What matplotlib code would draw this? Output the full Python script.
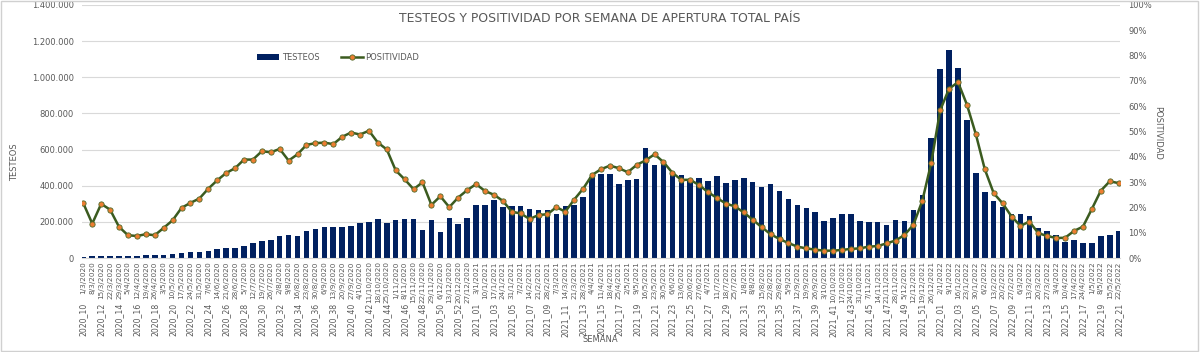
"""
Testeos y positividad por semana (total pais) - bar + line combo chart
"""
# Imports
import numpy as np
import pandas as pd
import matplotlib
matplotlib.use("Agg")
import matplotlib.pyplot as plt
from matplotlib.ticker import FuncFormatter, PercentFormatter
from matplotlib.patches import Rectangle

# Weekly tests, in thousands
testeos_miles = [
    6, 9, 9, 9, 9, 13, 13, 18, 18, 18,
    24, 28, 31, 31, 39, 48, 57, 57, 67, 83,
    94, 98, 120, 130, 124, 150, 159, 172, 172, 172,
    178, 193, 198, 215, 194, 209, 215, 215, 157, 211,
    146, 222, 187, 222, 293, 296, 319, 280, 285, 287,
    270, 267, 263, 244, 285, 296, 335, 448, 467, 467,
    411, 431, 435, 606, 515, 528, 476, 461, 437, 443,
    424, 452, 415, 431, 443, 422, 393, 409, 370, 328,
    293, 276, 256, 207, 219, 241, 245, 206, 198, 198,
    181, 211, 206, 267, 350, 665, 1044, 1150, 1052, 761,
    469, 363, 317, 283, 243, 246, 233, 165, 148, 126,
    89, 100, 85, 85, 120, 130, 148,
]

# Weekly positivity, in percent
positividad_pct = [
    21.6, 13.6, 21.4, 19.1, 12.3, 9.0, 8.7, 9.4, 9.0, 11.9,
    14.9, 19.8, 21.8, 23.5, 27.4, 30.7, 33.6, 35.5, 38.9, 38.9,
    42.2, 41.8, 43.1, 38.5, 41.0, 44.7, 45.4, 45.6, 45.0, 47.9,
    49.6, 48.8, 50.3, 45.6, 42.9, 34.6, 31.1, 27.2, 29.9, 21.0,
    24.4, 20.1, 23.9, 26.8, 29.2, 26.5, 25.0, 22.6, 18.3, 17.6,
    15.4, 17.0, 17.3, 20.1, 18.3, 23.1, 27.4, 32.8, 35.1, 36.5,
    35.5, 33.9, 36.8, 38.6, 41.0, 37.9, 33.7, 30.9, 30.9, 28.8,
    26.0, 23.7, 21.5, 20.4, 18.0, 15.1, 12.2, 9.4, 7.5, 5.9,
    4.5, 3.8, 3.3, 2.9, 2.9, 3.2, 3.6, 3.8, 4.5, 4.7,
    5.8, 6.9, 9.1, 13.1, 22.6, 37.6, 58.4, 66.9, 69.5, 60.6,
    48.9, 35.1, 25.6, 21.6, 16.4, 12.7, 14.4, 9.8, 8.7, 7.9,
    8.0, 10.7, 12.4, 19.4, 26.6, 30.3, 29.6,
]

# X labels: week start date (top row) and epi week (bottom row)
fechas = pd.date_range("2020-03-01", periods=len(testeos_miles), freq="7D")
fecha_labels = [f"{d.day}/{d.month}/{d.year}" for d in fechas]
semana_labels = ([f"2020_{w:02d}" for w in range(10, 54)]
                 + [f"2021_{w:02d}" for w in range(1, 53)]
                 + [f"2022_{w:02d}" for w in range(1, 22)])

GREY = "#595959"
NAVY = "#002060"
GREEN = "#3B5B1F"
ORANGE = "#ED7D31"

fig = plt.figure(figsize=(12, 3.52), dpi=100)
ax = fig.add_axes([82 / 1200, 1 - 258 / 352, (1120 - 82) / 1200, (258 - 5) / 352])

x = np.arange(len(testeos_miles))
bars = ax.bar(x, np.array(testeos_miles) * 1000, width=0.62, color=NAVY,
              label="TESTEOS", zorder=2)

# left axis
ax.set_ylim(0, 1400000)
ax.set_yticks(range(0, 1400001, 200000))
ax.yaxis.set_major_formatter(FuncFormatter(lambda v, p: f"{int(v):,}".replace(",", ".")))
ax.yaxis.grid(True, color="#D9D9D9", linewidth=0.8)
ax.set_axisbelow(True)
for side in ["top", "left", "right"]:
    ax.spines[side].set_visible(False)
ax.spines["bottom"].set_color("#D9D9D9")
ax.tick_params(axis="y", length=0, labelsize=6, labelcolor=GREY, pad=6)
ax.set_xlim(-0.15, len(x) - 1 + 0.15)
ax.set_xticks(x)
ax.set_xticklabels(fecha_labels, rotation=90, fontsize=5.2, color=GREY)
ax.tick_params(axis="x", length=0, pad=2.5)

# week labels, second row
sec = ax.secondary_xaxis(-0.178)
sec.set_xticks(x[::2], labels=semana_labels[::2])
sec.tick_params(length=0, pad=0, labelsize=5.6, labelcolor=GREY, labelrotation=90)
sec.spines["bottom"].set_visible(False)

# right axis: positivity line
ax2 = ax.twinx()
line, = ax2.plot(x, np.array(positividad_pct) / 100, color=GREEN, linewidth=1.8,
                 marker="o", markersize=3.8, markerfacecolor=ORANGE,
                 markeredgecolor="#4E6B2A", markeredgewidth=0.6, label="POSITIVIDAD")
ax2.set_ylim(0, 1)
ax2.set_yticks(np.linspace(0, 1, 11))
ax2.yaxis.set_major_formatter(PercentFormatter(1.0, decimals=0))
for side in ["top", "left", "right", "bottom"]:
    ax2.spines[side].set_visible(False)
ax2.tick_params(axis="y", length=0, labelsize=6, labelcolor=GREY, pad=6)

ax2.legend(handles=[bars, line], loc="center left", bbox_to_anchor=(0.169, 0.794),
           ncol=2, frameon=False, fontsize=6, handlelength=2.6, handletextpad=0.3,
           columnspacing=2.6, borderpad=0, borderaxespad=0, labelcolor=GREY)

# titles and axis names
fig.text(0.5, 1 - 18 / 352, "TESTEOS Y POSITIVIDAD POR SEMANA DE APERTURA TOTAL PAÍS",
         ha="center", va="center", fontsize=8.9, color=GREY)
fig.text(15 / 1200, 1 - 162 / 352, "TESTEOS", rotation=90, ha="center", va="center",
         fontsize=6, color=GREY)
fig.text(1158 / 1200, 1 - 133 / 352, "POSITIVIDAD", rotation=270, ha="center", va="center",
         fontsize=6, color=GREY)
fig.text(600 / 1200, 1 - 339 / 352, "SEMANA", ha="center", va="center",
         fontsize=6, color=GREY)

# light frame around the chart
fig.add_artist(Rectangle((0.001, 0.002), 0.997, 0.996, transform=fig.transFigure,
                         fill=False, edgecolor="#D0D0D0", linewidth=1))

fig.savefig("out.png", dpi=100)
plt.close(fig)
